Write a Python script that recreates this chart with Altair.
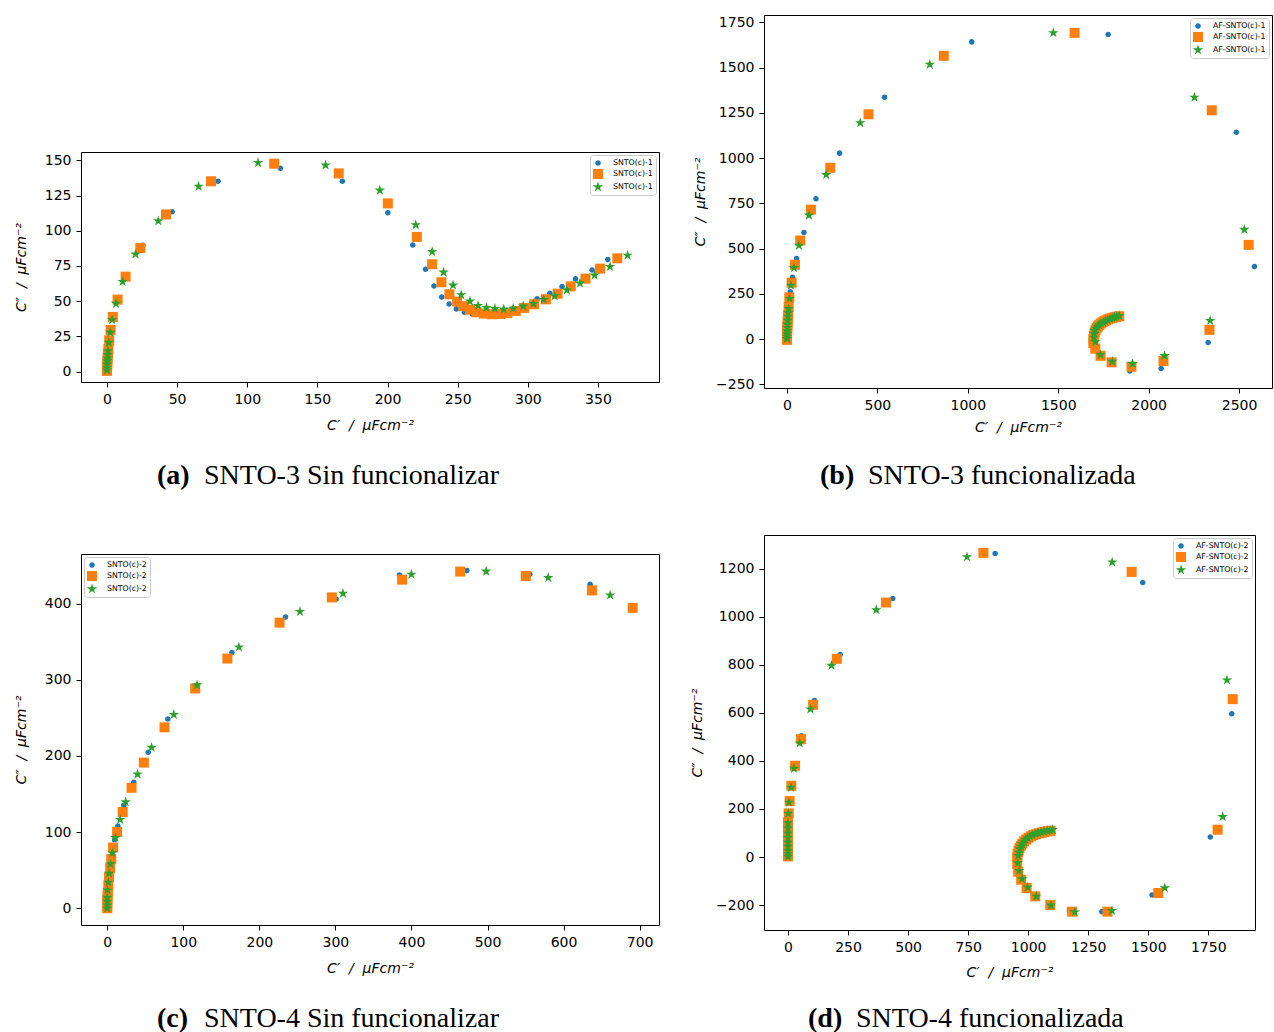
import altair as alt
import pandas as pd

# ---------------- data ----------------
SERIES = ["s0", "s1", "s2"]          # circle (blue), square (orange), star (green)

# (a) SNTO-3 sin funcionalizar
A_CI_X = [0, 0.1, 0.2, 0.4, 0.7, 1.1, 1.7, 2.8, 4.6, 8.3, 14.5, 25.6, 46.5, 79.2, 123.6, 167.8, 200.2, 218.0, 227.1,
          233.1, 238.6, 243.9, 249.1, 254.8, 260.5, 266.3, 272.2, 278.3, 284.4, 290.6, 297.0, 306.6, 315.7, 324.4,
          334.0, 345.8, 357.0]
A_CI_Y = [0.5, 3, 5.5, 8.5, 12.5, 17.5, 23.5, 31, 40, 52.5, 68.5, 89.6, 113.5, 135.1, 144.3, 135.1, 112.8, 89.9, 72.6,
          60.8, 53.0, 48.0, 44.5, 42.1, 40.8, 40.2, 40.2, 40.8, 42.0, 43.8, 46.4, 51.6, 55.6, 60.3, 65.8, 72.1, 79.5]
A_SQ_X = [0, 0, 0.1, 0.2, 0.3, 0.5, 0.7, 1.0, 1.6, 2.6, 4.2, 7.6, 13.3, 23.8, 42.1, 74.2, 119.2, 165.2, 200.2, 220.9,
          231.8, 238.4, 244.1, 249.6, 254.0, 258.8, 263.5, 268.7, 274.4, 280.4, 285.4, 291.4, 297.4, 304.5, 312.9,
          321.2, 330.6, 341.1, 351.5, 363.8]
A_SQ_Y = [0.5, 2, 3.5, 5, 7, 9.5, 12.5, 16, 22.2, 29.6, 38.8, 51.1, 67.4, 87.7, 111.6, 135.1, 147.6, 140.7, 119.4,
          95.6, 76.2, 63.4, 54.9, 49.7, 46.4, 44.0, 42.1, 41.2, 40.7, 40.9, 41.6, 43.0, 45.2, 47.8, 51.3, 55.3, 60.5,
          66.0, 73.1, 80.4]
A_ST_X = [0, 0, 0.1, 0.2, 0.3, 0.5, 0.8, 1.3, 2.4, 3.7, 6.5, 11.2, 20.4, 36.6, 65.3, 107.7, 155.8, 194.5, 220.1,
          231.8, 239.9, 246.7, 252.5, 258.8, 264.5, 270.5, 276.5, 282.8, 289.6, 296.7, 304.0, 311.3, 319.1, 327.8,
          337.2, 347.6, 358.6, 371.1]
A_ST_Y = [1, 3, 5.2, 7.5, 9.5, 12, 14.7, 20.6, 27.7, 36.7, 48.3, 63.9, 83.3, 106.9, 131.5, 148.3, 146.6, 128.7, 104.1,
          85.1, 70.5, 61.3, 54.4, 49.9, 46.8, 45.4, 44.7, 44.2, 44.9, 46.4, 48.2, 51.1, 53.7, 57.9, 62.7, 68.4, 74.5,
          82.5]

# (b) SNTO-3 funcionalizada
B_CI_X = [0, 0.5, 1, 1.8, 2.7, 4, 5.5, 8, 11.5, 18.4, 31.3, 53.4, 93.9, 160.2, 290.9, 539.4, 1021.7, 1776, 2485,
          2585, 2328.8, 2069, 1896, 1790, 1730, 1702, 1693, 1694, 1698, 1704, 1711, 1719, 1728, 1738, 1749, 1760,
          1772, 1784, 1797, 1810, 1823, 1836]
B_CI_Y = [0, 15, 30, 50, 70, 92, 115, 142, 180, 262.4, 341.3, 445.9, 589, 776.1, 1027.5, 1335.8, 1642, 1682.6, 1143,
          401.8, -18.3, -161.5, -176, -135, -97, -58, -25, 5, 30, 45, 58, 69, 79, 88, 96, 103, 109, 114, 118.5,
          122.5, 125.5, 128]
B_SQ_X = [0, 0, 0.5, 1, 1.8, 2.7, 3.7, 5.5, 7, 9.2, 12.9, 25.8, 44.2, 73.6, 132.5, 239.3, 451.0, 867.1, 1590.6, 2349,
          2553, 2336, 2082, 1905, 1795, 1734, 1705, 1694, 1694, 1697, 1701, 1706, 1712, 1719, 1727, 1736, 1745, 1755,
          1765, 1776, 1788, 1799, 1811, 1824, 1837]
B_SQ_Y = [-3.7, 10, 24, 40, 60.6, 78, 97, 116, 134, 179.8, 231.2, 311.9, 411, 545, 715.6, 946.8, 1242.2, 1565.1,
          1691.7, 1264, 521, 51.4, -121, -152, -128, -91.7, -53, -22, 0, 18, 36.7, 49, 60.6, 70, 78.9, 86.5, 93.6,
          99.5, 104.6, 109.5, 113.8, 117.5, 121.1, 124, 126.6]
B_ST_X = [0, 0, 0.5, 1, 1.8, 2.7, 3.7, 5.5, 7, 9.2, 14.7, 22.1, 38.7, 66.3, 121.5, 217.2, 405.0, 789.8, 1472.8, 2253,
          2529, 2340, 2088, 1911, 1799, 1734, 1705, 1697, 1699, 1701, 1708, 1716, 1726, 1736, 1748, 1760, 1773, 1786,
          1798, 1811, 1824, 1837]
B_ST_Y = [3, 14.7, 30, 45.9, 64, 82.6, 103, 124.8, 146, 168.8, 223.9, 297.2, 394.5, 517.4, 684.4, 908.3, 1194.5,
          1517.4, 1691.7, 1335.8, 605.5, 102.8, -91.7, -135.8, -123, -86, -14.7, 10, 30, 47.7, 59, 69.7, 78.5, 86.2,
          93, 99, 105.5, 112, 116.5, 121, 125, 128.4]

# (c) SNTO-4 sin funcionalizar
C_CI_X = [0, 0, 0.1, 0.3, 0.8, 1.5, 2.6, 4.2, 6.5, 9.8, 14.0, 21.8, 34.9, 53.9, 79.7, 116, 163.9, 234.4, 301, 384.3,
          472.9, 555.6, 634.9]
C_CI_Y = [0, 5, 10, 16, 24, 34, 46, 59, 74, 90, 107.9, 135.2, 165.2, 204.8, 248.5, 291, 335.7, 382.4, 406, 437.4,
          443.2, 438.3, 425.1]
C_SQ_X = [0, 0, 0, 0.2, 0.4, 0.8, 1.4, 2.3, 3.8, 5.3, 7.7, 13.0, 20.3, 32.0, 48.1, 75.3, 115.7, 158.0, 226.6, 295.3,
          387.7, 464.1, 550.3, 637.3, 690.9]
C_SQ_Y = [0, 4, 8, 11.9, 16, 20.7, 29.5, 40.5, 52.4, 64.8, 79.7, 100, 126.4, 158.1, 191.2, 237.4, 288.5, 327.8,
          374.9, 408, 431.3, 441.9, 436.1, 417.2, 394.3]
C_ST_X = [0, 0, 0, 0, 0.4, 1.4, 2.3, 4.3, 6.7, 10.6, 17.0, 24.2, 39.8, 58.3, 87.5, 118.1, 173.1, 253.4, 309.9, 399.9,
          498.2, 579.9, 661.2]
C_ST_Y = [0, 4, 9, 14.1, 23.8, 33.9, 45.8, 58.1, 72.7, 92.5, 116.3, 139.6, 175.8, 211, 254.2, 293, 342.7, 389.4,
          413.2, 438.3, 442.3, 433.9, 411]

# (d) SNTO-4 funcionalizada
D_CI_X = [0, 0, 0, 0, 0, 0, 0, 0, 0.5, 2, 6, 13, 28, 55.7, 110, 217.4, 436.1, 862.5, 1477, 1847.6, 1758.4, 1516,
          1307, 1172, 1088, 1027, 991, 969, 957, 953, 954, 959, 969, 982, 1000, 1020, 1043, 1067, 1093]
D_CI_Y = [0, 12, 25, 42, 60, 78, 97, 118, 140, 178, 228, 292, 377, 504.9, 651.9, 843.3, 1076.3, 1263.5, 1142.9,
          596.4, 83.2, -158, -227.5, -223, -198, -162, -127, -92, -58, -26, 3, 30, 50, 68, 83, 94, 101, 106, 111]
D_SQ_X = [0, 0, 0, 0, 0, 0, 0, 0, 0, 2.8, 7, 13.9, 29.3, 54.3, 104.5, 203.4, 408.2, 813.7, 1431, 1851.8, 1789, 1542,
          1330, 1183, 1092, 1029.7, 993.5, 971, 958.6, 954.4, 954.4, 956, 960, 964, 970, 976, 983.7, 992, 1001.8,
          1011, 1021, 1032, 1043.6, 1055, 1067, 1080, 1093.8]
D_SQ_Y = [2.8, 15, 26.4, 45, 63.8, 83, 102.6, 122, 144, 181.7, 233, 296.8, 380, 491, 633.8, 825.2, 1059.6, 1266.3,
          1187.2, 657.4, 113.7, -149.8, -227.5, -227.5, -199.7, -163.7, -129, -94.3, -61, -29, -1.4, 12, 26.4, 37,
          47, 56, 65.2, 73, 80.4, 86, 91.5, 95, 98.5, 101, 104, 107, 109.6]
D_ST_X = [0, 0, 0, 0, 0, 0, 0, 0, 0, 1.4, 4.2, 12.5, 25.1, 48.8, 93.4, 181.1, 367.8, 745.4, 1350, 1828, 1810, 1569,
          1349, 1194, 1095, 1034, 997.6, 975, 962.5, 957, 958.6, 961, 965.6, 970, 975.4, 982, 989, 998, 1007.4, 1018,
          1029.7, 1041, 1053.4, 1066, 1080, 1091, 1102]
D_ST_Y = [1.4, 14, 26.4, 44, 61, 80, 98.5, 120, 141.5, 181.7, 227.5, 289.9, 368.9, 474.3, 615.8, 797.5, 1029.1,
          1249.7, 1227.5, 736.5, 167.8, -129, -223.3, -228.8, -201, -163.7, -126, -91.5, -57, -25, 5.5, 19, 33.3, 44,
          54, 63, 72, 79, 86, 92, 97, 101, 104, 107, 109.6, 112, 113.7]

# tick values
A_XTICKS = [0, 50, 100, 150, 200, 250, 300, 350]
A_YTICKS = [0, 25, 50, 75, 100, 125, 150]
B_XTICKS = [0, 500, 1000, 1500, 2000, 2500]
B_YTICKS = [-250, 0, 250, 500, 750, 1000, 1250, 1500, 1750]
C_XTICKS = [0, 100, 200, 300, 400, 500, 600, 700]
C_YTICKS = [0, 100, 200, 300, 400]
D_XTICKS = [0, 250, 500, 750, 1000, 1250, 1500, 1750]
D_YTICKS = [-200, 0, 200, 400, 600, 800, 1000, 1200]

LEGEND_LABELS = ["SNTO(c)-1", "AF-SNTO(c)-1", "SNTO(c)-2", "AF-SNTO(c)-2"]
CAPTION_LABELS = ["(a)", "(b)", "(c)", "(d)"]
CAPTION_TEXTS = ["SNTO-3 Sin funcionalizar", "SNTO-3 funcionalizada",
                 "SNTO-4 Sin funcionalizar", "SNTO-4 funcionalizada"]

X_TITLE = "C′\u00a0\u00a0/\u00a0\u00a0μFcm⁻²"
Y_TITLE = "C″\u00a0\u00a0/\u00a0\u00a0μFcm⁻²"

# ---------------- styles ----------------
COLORS = ["#1f77b4", "#ff7f0e", "#2ca02c"]
CIRCLE = "M-0.56,0A0.56,0.56,0,1,0,0.56,0A0.56,0.56,0,1,0,-0.56,0Z"
STAR = ("M0,-1.1L0.247,-0.34L1.046,-0.34L0.4,0.13L0.647,0.89L0,0.42L-0.647,0.89L-0.4,0.13"
        "L-1.046,-0.34L-0.247,-0.34Z")
SHAPES = [CIRCLE, "square", STAR]
CAP_FONT = "Liberation Serif"
CAP_SIZE = 28
ONE = alt.Data(values=[{}])


def anchor_mark(ax, ay):
    return alt.Chart(ONE).mark_text(text=".", fontSize=1, opacity=0, align="left", baseline="top").encode(
        x=alt.value(ax), y=alt.value(ay))


def make_panel(series_xy, xdom, ydom, xticks, yticks, width, height, legend_label, legend_orient,
               cap_label, cap_text, cap_x1, cap_x2, cap_y, anchor_x, anchor_y, y_title_pad, x_title_pad):
    rows = []
    for s, (xs, ys) in zip(SERIES, series_xy):
        assert len(xs) == len(ys), (cap_label, s, len(xs), len(ys))
        rows += [{"x": x, "y": y, "s": s} for x, y in zip(xs, ys)]
    df = pd.DataFrame(rows)
    legend = alt.Legend(title=None, orient=legend_orient, labelExpr=f"'{legend_label}'")
    pts = alt.Chart(df).mark_point(filled=True, opacity=1, size=100).encode(
        x=alt.X("x:Q", scale=alt.Scale(domain=xdom, nice=False, zero=False),
                axis=alt.Axis(values=xticks, title=X_TITLE, format="d", titlePadding=x_title_pad)),
        y=alt.Y("y:Q", scale=alt.Scale(domain=ydom, nice=False, zero=False),
                axis=alt.Axis(values=yticks, title=Y_TITLE, format="d", titlePadding=y_title_pad)),
        color=alt.Color("s:N", scale=alt.Scale(domain=SERIES, range=COLORS), legend=legend),
        shape=alt.Shape("s:N", scale=alt.Scale(domain=SERIES, range=SHAPES), legend=legend),
    )
    lab = alt.Chart(ONE).mark_text(text=cap_label, font=CAP_FONT, fontSize=CAP_SIZE, fontWeight="bold",
                                   align="left", baseline="alphabetic", color="black").encode(
        x=alt.value(cap_x1), y=alt.value(cap_y))
    txt = alt.Chart(ONE).mark_text(text=cap_text, font=CAP_FONT, fontSize=CAP_SIZE, fontWeight="normal",
                                   align="left", baseline="alphabetic", color="black").encode(
        x=alt.value(cap_x2), y=alt.value(cap_y))
    return alt.layer(pts, lab, txt, anchor_mark(anchor_x, anchor_y)).properties(width=width, height=height)


pa = make_panel([(A_CI_X, A_CI_Y), (A_SQ_X, A_SQ_Y), (A_ST_X, A_ST_Y)],
                [-18.5, 393.5], [-7.4, 155.9], A_XTICKS, A_YTICKS, 578, 230,
                LEGEND_LABELS[0], "top-right", CAPTION_LABELS[0], CAPTION_TEXTS[0],
                76, 123, 332, -80, -134, 16, 12)
pb = make_panel([(B_CI_X, B_CI_Y), (B_SQ_X, B_SQ_Y), (B_ST_X, B_ST_Y)],
                [-127, 2682], [-269.6, 1790.6], B_XTICKS, B_YTICKS, 508, 373,
                LEGEND_LABELS[1], "top-right", CAPTION_LABELS[1], CAPTION_TEXTS[1],
                56, 104, 469, -84, -14, 8, 8)
pc = make_panel([(C_CI_X, C_CI_Y), (C_SQ_X, C_SQ_Y), (C_ST_X, C_ST_Y)],
                [-34.5, 725.5], [-22, 465], C_XTICKS, C_YTICKS, 578, 371,
                LEGEND_LABELS[2], "top-left", CAPTION_LABELS[2], CAPTION_TEXTS[2],
                76, 123, 473, -80, -62, 16, 12)
pd_ = make_panel([(D_CI_X, D_CI_Y), (D_SQ_X, D_SQ_Y), (D_ST_X, D_ST_Y)],
                 [-100, 1944.6], [-303.8, 1340.8], D_XTICKS, D_YTICKS, 491, 395,
                 LEGEND_LABELS[3], "top-right", CAPTION_LABELS[3], CAPTION_TEXTS[3],
                 44, 92, 492, -84, -43, 11, 11)

# invisible spacer that pushes panel (a) below the top of panel (b)
spacer = anchor_mark(0, 0).properties(width=1, height=1, view=alt.ViewBackground(stroke="transparent"))

left = alt.vconcat(spacer, pa, pc, spacing=0).resolve_scale(color="independent", shape="independent")
right = alt.vconcat(pb, pd_, spacing=0).resolve_scale(color="independent", shape="independent")

chart = alt.hconcat(left, right, spacing=19).resolve_scale(
    color="independent", shape="independent"
).properties(
    padding=0, background="white"
).configure_view(
    stroke="#000000", strokeWidth=1
).configure_axis(
    grid=False, domain=False,
    labelFont="DejaVu Sans", labelFontSize=14, labelColor="#000000",
    labelPadding=5, labelFlush=False, labelOverlap=False,
    tickColor="#000000", tickSize=5, tickWidth=1,
    titleFont="DejaVu Sans", titleFontSize=14, titleFontStyle="italic",
    titleFontWeight="normal", titleColor="#000000", titlePadding=6,
).configure_legend(
    labelFont="DejaVu Sans", labelFontSize=7.8, labelColor="#000000",
    fillColor="white", strokeColor="#cccccc", padding=3, cornerRadius=3,
    rowPadding=2, labelOffset=10, offset=3, symbolSize=100, symbolStrokeWidth=0,
)

chart.save("out.html", embed_options={"renderer": "svg", "actions": False})
